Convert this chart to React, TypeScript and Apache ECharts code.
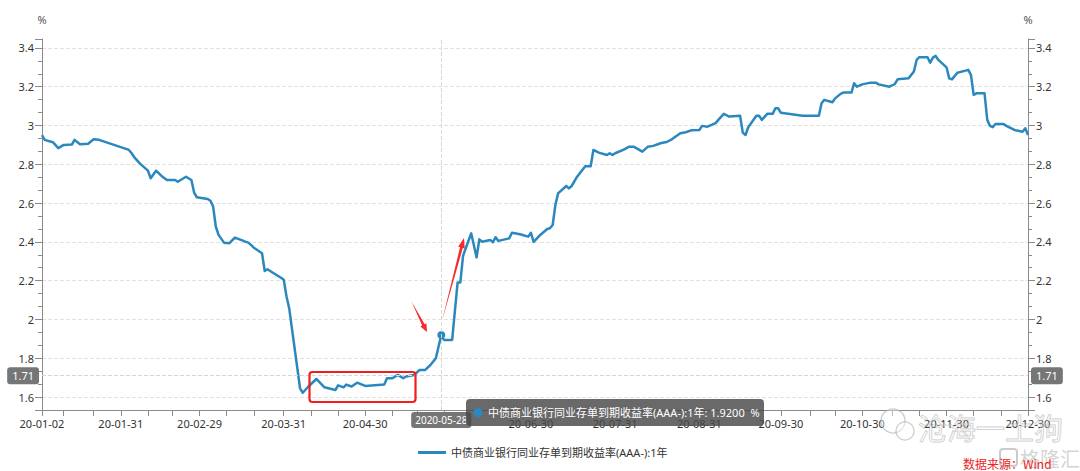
import React, { useEffect, useRef } from 'react';
import * as echarts from 'echarts';

const seriesName = '中债商业银行同业存单到期收益率(AAA-):1年';
const axisStart = '2020-01-02';
const axisEnd = '2020-12-30';
const labelDates = ['2020-01-02', '2020-01-31', '2020-02-29', '2020-03-31', '2020-04-30', '2020-06-30', '2020-07-31', '2020-08-31', '2020-09-30', '2020-10-30', '2020-11-30', '2020-12-30'];
const minorTickDates = ['2020-01-10', '2020-01-21', '2020-02-10', '2020-02-19', '2020-03-10', '2020-03-20', '2020-04-10', '2020-04-20', '2020-05-10', '2020-05-19', '2020-05-29', '2020-06-10', '2020-06-20', '2020-07-10', '2020-07-20', '2020-08-10', '2020-08-20', '2020-09-10', '2020-09-20', '2020-10-11', '2020-10-20', '2020-11-10', '2020-11-20', '2020-12-10', '2020-12-20'];

const pointDates = [
  '2020-01-02', '2020-01-03', '2020-01-06', '2020-01-08', '2020-01-10', '2020-01-13', '2020-01-14', '2020-01-16', '2020-01-19', '2020-01-21', '2020-01-23',
  '2020-02-03', '2020-02-04', '2020-02-05', '2020-02-07', '2020-02-10', '2020-02-11', '2020-02-13', '2020-02-15', '2020-02-17', '2020-02-20', '2020-02-21', '2020-02-24', '2020-02-26', '2020-02-27', '2020-02-28',
  '2020-03-03', '2020-03-04', '2020-03-05', '2020-03-06', '2020-03-07', '2020-03-09', '2020-03-11', '2020-03-13', '2020-03-16', '2020-03-17', '2020-03-18', '2020-03-20', '2020-03-23', '2020-03-24', '2020-03-25', '2020-03-27', '2020-03-30', '2020-03-31',
  '2020-04-01', '2020-04-02', '2020-04-06', '2020-04-07', '2020-04-09', '2020-04-12', '2020-04-15', '2020-04-19', '2020-04-20', '2020-04-22', '2020-04-23', '2020-04-25', '2020-04-27', '2020-04-30',
  '2020-05-07', '2020-05-08', '2020-05-10', '2020-05-12', '2020-05-14', '2020-05-15', '2020-05-18', '2020-05-20', '2020-05-22', '2020-05-24', '2020-05-26', '2020-05-27', '2020-05-28', '2020-05-29',
  '2020-06-01', '2020-06-03', '2020-06-04', '2020-06-05', '2020-06-06', '2020-06-08', '2020-06-10', '2020-06-11', '2020-06-12', '2020-06-15', '2020-06-16', '2020-06-17', '2020-06-18', '2020-06-22', '2020-06-23', '2020-06-26', '2020-06-29', '2020-06-30',
  '2020-07-01', '2020-07-03', '2020-07-06', '2020-07-07', '2020-07-08', '2020-07-09', '2020-07-10', '2020-07-13', '2020-07-14', '2020-07-15', '2020-07-17', '2020-07-20', '2020-07-22', '2020-07-23', '2020-07-25', '2020-07-28', '2020-07-29', '2020-07-30', '2020-07-31',
  '2020-08-03', '2020-08-05', '2020-08-07', '2020-08-10', '2020-08-12', '2020-08-14', '2020-08-17', '2020-08-19', '2020-08-21', '2020-08-24', '2020-08-26', '2020-08-28', '2020-08-31',
  '2020-09-01', '2020-09-03', '2020-09-06', '2020-09-07', '2020-09-09', '2020-09-11', '2020-09-15', '2020-09-16', '2020-09-17', '2020-09-18', '2020-09-21', '2020-09-22', '2020-09-23', '2020-09-25', '2020-09-27', '2020-09-28', '2020-09-29', '2020-09-30',
  '2020-10-08', '2020-10-14', '2020-10-15', '2020-10-16', '2020-10-19', '2020-10-20', '2020-10-22', '2020-10-23', '2020-10-26', '2020-10-27', '2020-10-28', '2020-10-30',
  '2020-11-02', '2020-11-04', '2020-11-05', '2020-11-09', '2020-11-11', '2020-11-12', '2020-11-16', '2020-11-18', '2020-11-19', '2020-11-20', '2020-11-23', '2020-11-24', '2020-11-25', '2020-11-26', '2020-11-27', '2020-11-30',
  '2020-12-01', '2020-12-02', '2020-12-04', '2020-12-07', '2020-12-08', '2020-12-09', '2020-12-10', '2020-12-11', '2020-12-14', '2020-12-15', '2020-12-16', '2020-12-17', '2020-12-18', '2020-12-21', '2020-12-22', '2020-12-25', '2020-12-28', '2020-12-29', '2020-12-30',
];
const pointValues = [
  2.95, 2.926, 2.914, 2.883, 2.9, 2.902, 2.926, 2.903, 2.906, 2.929, 2.926,
  2.874, 2.857, 2.836, 2.805, 2.767, 2.728, 2.767, 2.74, 2.719, 2.719, 2.71, 2.736, 2.719, 2.654, 2.63,
  2.621, 2.612, 2.582, 2.478, 2.436, 2.396, 2.393, 2.422, 2.406, 2.4, 2.396, 2.37, 2.341, 2.25, 2.259, 2.241, 2.215, 2.205,
  2.12, 2.058, 1.645, 1.622, 1.653, 1.693, 1.65, 1.636, 1.66, 1.65, 1.664, 1.654, 1.674, 1.657,
  1.664, 1.697, 1.697, 1.714, 1.697, 1.706, 1.714, 1.739, 1.739, 1.765, 1.8, 1.86, 1.92, 1.894,
  1.894, 2.19, 2.19, 2.327, 2.367, 2.444, 2.32, 2.413, 2.401, 2.41, 2.398, 2.424, 2.405, 2.418, 2.447, 2.439, 2.427, 2.447,
  2.4, 2.43, 2.466, 2.47, 2.487, 2.59, 2.65, 2.688, 2.676, 2.688, 2.736, 2.79, 2.79, 2.874, 2.86, 2.848, 2.857, 2.848, 2.857,
  2.874, 2.89, 2.89, 2.865, 2.89, 2.895, 2.91, 2.915, 2.93, 2.96, 2.965, 2.975, 2.977,
  2.998, 2.994, 3.012, 3.029, 3.06, 3.046, 3.05, 2.963, 2.951, 2.991, 3.05, 3.05, 3.029, 3.06, 3.06, 3.089, 3.089, 3.066,
  3.05, 3.05, 3.115, 3.132, 3.12, 3.14, 3.163, 3.17, 3.17, 3.218, 3.2, 3.212,
  3.221, 3.221, 3.212, 3.2, 3.214, 3.238, 3.243, 3.278, 3.338, 3.352, 3.352, 3.324, 3.35, 3.359, 3.338, 3.3,
  3.243, 3.238, 3.272, 3.283, 3.287, 3.261, 3.158, 3.166, 3.166, 3.029, 2.998, 2.991, 3.008, 3.008, 2.998, 2.977, 2.968, 2.986, 2.951,
];

const yMin = 1.533;
const yMax = 3.446;
const pointerDate = '2020-05-28';
const pointerY = 1.71;

const LINE_COLOR = '#2b88bf';
const FONT = "'Noto Sans', 'Noto Sans CJK SC', sans-serif";

function buildCategories(): string[] {
  const out: string[] = [];
  const d = new Date(axisStart + 'T00:00:00Z');
  const end = new Date(axisEnd + 'T00:00:00Z');
  while (d.getTime() <= end.getTime()) {
    out.push(d.toISOString().slice(0, 10));
    d.setUTCDate(d.getUTCDate() + 1);
  }
  return out;
}

function arrow(tx: number, ty: number, hx: number, hy: number, headLen: number, shaftW: number, headW: number) {
  const dx = hx - tx;
  const dy = hy - ty;
  const len = Math.sqrt(dx * dx + dy * dy);
  const ux = dx / len;
  const uy = dy / len;
  const nx = -uy;
  const ny = ux;
  const bx = hx - ux * headLen;
  const by = hy - uy * headLen;
  return [
    [tx, ty],
    [bx + nx * shaftW, by + ny * shaftW],
    [bx + nx * headW, by + ny * headW],
    [hx, hy],
    [bx - nx * headW, by - ny * headW],
    [bx - nx * shaftW, by - ny * shaftW],
  ];
}

export default function App() {
  const ref = useRef<HTMLDivElement>(null);
  useEffect(() => {
    if (!ref.current) return;
    const chart = echarts.init(ref.current, undefined, { renderer: 'svg' });
    const categories = buildCategories();
    const labelSet = new Set(labelDates);
    const tickSet = new Set([...labelDates, ...minorTickDates]);
    const lineData = pointDates.map((d, i) => [d, pointValues[i]]);
    const pIdx = pointDates.indexOf(pointerDate);
    const pValue = pointValues[pIdx];
    const pointerIndex = categories.indexOf(pointerDate);

    const yAxisCommon = (position: 'left' | 'right') => ({
      type: 'value',
      position,
      min: yMin,
      max: yMax,
      splitNumber: 9,
      name: '%',
      nameLocation: 'end',
      nameGap: 14,
      nameTextStyle: { color: '#555', fontSize: 11, fontFamily: FONT },
      axisLine: { show: true, lineStyle: { color: '#8a8a8a', width: 1 } },
      axisTick: { show: true, length: 7, lineStyle: { color: '#8a8a8a' } },
      minorTick: { show: true, splitNumber: 3, length: 4, lineStyle: { color: '#8a8a8a' } },
      axisLabel: {
        color: '#333',
        fontSize: 11,
        fontFamily: FONT,
        showMinLabel: false,
        showMaxLabel: false,
        formatter: (v: number) => String(Math.round(v * 10) / 10),
      },
      splitLine: position === 'left'
        ? { show: true, showMinLine: false, showMaxLine: false, lineStyle: { color: '#e2e2e2', type: 'dashed' } }
        : { show: false },
      axisPointer: {
        show: true,
        type: 'line',
        status: 'show',
        value: pointerY,
        lineStyle: { color: '#d6d6d6', type: 'dashed', width: 1 },
        label: {
          show: true,
          backgroundColor: '#767676',
          color: '#fff',
          fontSize: 11,
          fontFamily: FONT,
          padding: [3, 5],
          borderRadius: 3,
          formatter: (p: any) => Number(p.value).toFixed(2),
        },
      },
    });

    const graphics: any[] = [
      {
        type: 'rect',
        z: 100,
        shape: { x: 309.5, y: 372, width: 106, height: 30, r: 3 },
        style: { fill: 'none', stroke: '#f21d1d', lineWidth: 2.2 },
      },
      {
        type: 'polygon',
        z: 100,
        shape: { points: arrow(411.5, 301.5, 427, 332, 8, 1.4, 3.4) },
        style: { fill: '#f52a2a' },
      },
      {
        type: 'polygon',
        z: 100,
        shape: { points: arrow(442, 321, 464, 238, 10, 1.4, 3.4) },
        style: { fill: '#f52a2a' },
      },
      {
        type: 'group',
        z: 120,
        children: [
          {
            type: 'rect',
            z: 120,
            shape: { x: 466, y: 399, width: 298, height: 27, r: 4 },
            style: { fill: 'rgba(72,72,72,0.82)' },
          },
          {
            type: 'circle',
            z: 121,
            shape: { cx: 478, cy: 412.5, r: 4.5 },
            style: { fill: LINE_COLOR },
          },
          {
            type: 'text',
            z: 121,
            x: 488,
            y: 412.5,
            style: {
              text: `${seriesName}: ${pValue.toFixed(4)}  %`,
              fill: '#fff',
              fontSize: 11,
              fontFamily: FONT,
              verticalAlign: 'middle',
              align: 'left',
            },
          },
        ],
      },
      {
        type: 'circle',
        z: 90,
        shape: { cx: 893, cy: 421, r: 12 },
        style: { fill: 'rgba(255,255,255,0.4)', stroke: 'rgba(170,170,170,0.6)', lineWidth: 1.2 },
      },
      {
        type: 'circle',
        z: 90,
        shape: { cx: 905, cy: 431, r: 9 },
        style: { fill: 'rgba(255,255,255,0.4)', stroke: 'rgba(170,170,170,0.6)', lineWidth: 1.2 },
      },
      {
        type: 'text',
        z: 90,
        x: 918,
        y: 427,
        style: {
          text: '沧海一土狗',
          fontSize: 29,
          fontFamily: "'Noto Sans CJK SC', sans-serif",
          fill: 'rgba(255,255,255,0.3)',
          stroke: 'rgba(150,150,150,0.5)',
          lineWidth: 1,
          verticalAlign: 'middle',
          align: 'left',
        },
      },
      {
        type: 'rect',
        z: 90,
        shape: { x: 1000, y: 449, width: 17, height: 17, r: 3 },
        style: { fill: 'none', stroke: 'rgba(190,190,190,0.8)', lineWidth: 2 },
      },
      {
        type: 'text',
        z: 90,
        x: 1020,
        y: 458,
        style: {
          text: '格隆汇',
          fontSize: 20,
          fontFamily: "'Noto Sans CJK SC', sans-serif",
          fill: 'rgba(205,205,205,0.85)',
          verticalAlign: 'middle',
          align: 'left',
        },
      },
      {
        type: 'text',
        z: 95,
        x: 963,
        y: 463,
        style: {
          text: '数据来源：Wind',
          fontSize: 12,
          fontFamily: "'Noto Sans CJK SC', sans-serif",
          fill: '#ec2424',
          verticalAlign: 'middle',
          align: 'left',
        },
      },
    ];

    chart.setOption({
      animation: false,
      backgroundColor: '#fff',
      textStyle: { fontFamily: FONT },
      grid: { left: 42, right: 52, top: 39, bottom: 61, containLabel: false },
      legend: {
        data: [{ name: seriesName, icon: 'rect' }],
        left: 413,
        top: 442,
        itemWidth: 28,
        itemHeight: 3,
        itemStyle: { color: LINE_COLOR },
        textStyle: { color: '#333', fontSize: 11, fontFamily: FONT },
      },
      xAxis: {
        type: 'category',
        data: categories,
        boundaryGap: false,
        axisLine: { show: true, lineStyle: { color: '#8a8a8a' } },
        axisTick: {
          show: true,
          length: 6,
          interval: (_i: number, v: string) => tickSet.has(v),
          lineStyle: { color: '#8a8a8a' },
        },
        axisLabel: {
          color: '#333',
          fontSize: 11,
          fontFamily: FONT,
          interval: (_i: number, v: string) => labelSet.has(v),
          formatter: (v: string) => v.slice(2),
        },
        splitLine: { show: false },
        axisPointer: {
          show: true,
          type: 'line',
          status: 'show',
          value: pointerIndex,
          lineStyle: { color: '#d6d6d6', type: 'dashed', width: 1 },
          label: {
            show: true,
            backgroundColor: '#767676',
            color: '#fff',
            fontSize: 10,
            fontFamily: FONT,
            padding: [3, 4],
            borderRadius: 3,
            margin: 2,
          },
        },
      },
      yAxis: [yAxisCommon('left'), yAxisCommon('right')],
      series: [
        {
          name: seriesName,
          type: 'line',
          data: lineData,
          showSymbol: false,
          symbol: 'none',
          lineStyle: { color: LINE_COLOR, width: 2.5, join: 'round' },
          itemStyle: { color: LINE_COLOR },
          silent: true,
          z: 3,
        },
        {
          name: 'pointer',
          type: 'scatter',
          data: [[pointerDate, pValue]],
          symbolSize: 8,
          itemStyle: { color: LINE_COLOR, opacity: 1 },
          silent: true,
          z: 4,
        },
      ],
      graphic: graphics,
    });
    return () => chart.dispose();
  }, []);
  return (
    <div
      ref={ref}
      style={{ position: 'fixed', left: 0, top: 0, width: 1080, height: 471, background: '#fff' }}
    />
  );
}
